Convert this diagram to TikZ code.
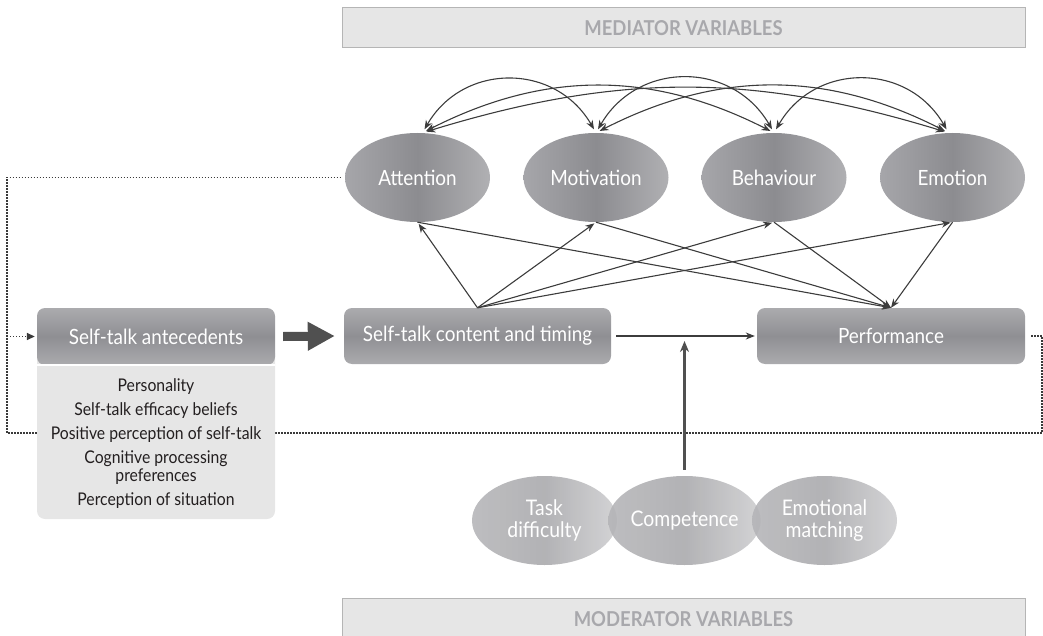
\documentclass[tikz,border=0pt]{standalone}
\usepackage{fontspec}
\setmainfont{Lato}
\newfontfamily\narrowfont[FakeStretch=0.9]{Lato}
\usetikzlibrary{arrows.meta,shapes.geometric}
\definecolor{bargray}{HTML}{B5B5B5}
\definecolor{barfill}{HTML}{E6E6E6}
\definecolor{bartext}{HTML}{A8A8AC}
\definecolor{ellA}{HTML}{A6A6AA}
\definecolor{ellB}{HTML}{8C8C90}
\definecolor{ellC}{HTML}{B0B0B3}
\definecolor{modA}{HTML}{B4B4B7}
\definecolor{modB}{HTML}{A8A8AB}
\definecolor{modC}{HTML}{CDCDCF}
\definecolor{hdrA}{HTML}{ABABAE}
\definecolor{hdrB}{HTML}{8F8F93}
\definecolor{arrgray}{HTML}{3C3C3C}
\definecolor{dotgray}{HTML}{3A3A3A}
\definecolor{bigarr}{HTML}{505050}
\definecolor{bodytext}{HTML}{231F20}
\begin{document}
\begin{tikzpicture}[x=1pt, y=1pt,
    varbar/.style={rectangle, draw=bargray, fill=barfill, line width=1pt, minimum width=683pt, minimum height=40pt, inner sep=0pt, text=bartext, font=\narrowfont\bfseries\fontsize{20.5}{22}\selectfont},
    medell/.style={ellipse, minimum width=145pt, minimum height=89pt, inner sep=0pt, left color=ellA, right color=ellC, middle color=ellB, text=white, font=\narrowfont\fontsize{21}{23}\selectfont},
    modell/.style={medell, left color=modA, right color=modC, middle color=modB, fill opacity=0.88, text opacity=1, align=center, font=\narrowfont\fontsize{21.5}{22}\selectfont},
    stbox/.style={rectangle, rounded corners=8pt, minimum height=56pt, inner sep=0pt, top color=hdrA, bottom color=hdrA, middle color=hdrB, text=white, font=\narrowfont\fontsize{21}{23}\selectfont},
    arr/.style={-{Stealth[length=9pt,width=7pt]}, line width=1.1pt, draw=arrgray},
    dualarr/.style={{Stealth[length=9pt,width=7pt]}-{Stealth[length=9pt,width=7pt]}, line width=1.1pt, draw=arrgray, shorten <=4pt, shorten >=4pt},
    fback/.style={line width=1.6pt, draw=dotgray, dash pattern=on 1.4pt off 1.6pt},
  ]
  \useasboundingbox (0,0) rectangle (1043,-636);

  % mediator row
  \node[varbar] (medbar) at (683.5,-28) {MEDIATOR VARIABLES};
  \foreach \n/\t/\x in {att/Attention/417.5, mot/Motivation/596, beh/Behaviour/774, emo/Emotion/952.5}
    \node[medell] (\n) at (\x,-177.5) {\t};

  % feedback loop (dotted)
  \coordinate (fbR) at (1042,-433);
  \coordinate (fbL) at (7,-433);
  \node[stbox, minimum width=268pt] (perf) at (891,-336) {Performance};
  \draw[fback] ([xshift=6pt]perf.east) -| (fbR) -- (fbL) |- ([xshift=-3pt]att.west);

  % antecedents
  \fill[barfill, rounded corners=8pt] (37,-345) rectangle (275,-519);
  \node[text=bodytext, align=center, font=\narrowfont\fontsize{17.5}{24}\selectfont] (antbody) at (156,-444)
    {Personality\\ Self-talk efficacy beliefs\\ Positive perception of self-talk\\ Cognitive processing\\[-6pt] preferences\\ Perception of situation};
  \node[stbox, minimum width=238pt, minimum height=57pt] (anthdr) at (156,-336.5) {Self-talk antecedents};
  \draw[white, line width=2pt] (anthdr.south west) -- (anthdr.south east);
  \draw[fback, -{Triangle[length=8pt,width=7pt]}] (fbL |- anthdr.west) -- ([xshift=-2pt]anthdr.west);

  % content and timing
  \node[stbox, minimum width=267pt] (cont) at (477.5,-336) {Self-talk content and timing};
  \draw[-{Triangle[length=27pt,width=27pt]}, line width=9pt, draw=bigarr] ([xshift=8pt]anthdr.east) -- ([xshift=-9pt]cont.west);
  \draw[arr, line width=1.4pt] ([xshift=5pt]cont.east) -- ([xshift=-2pt]perf.west);

  % paths through the mediators
  \foreach \m in {att,mot,beh,emo} {
    \draw[arr, shorten >=2pt] (cont.north) -- (\m.south);
    \draw[arr] (\m.south) -- (perf.north);
  }
  \draw[dualarr] ([xshift=5pt]att.north) to[bend left=60, looseness=1.2] (mot.north);
  \draw[dualarr] (mot.north) to[bend left=60, looseness=1.2] (beh.north);
  \draw[dualarr] (beh.north) to[bend left=60, looseness=1.2] ([xshift=-4pt]emo.north);
  \draw[dualarr] ([xshift=5pt]att.north) to[bend left=27] (beh.north);
  \draw[dualarr] (mot.north) to[bend left=27] ([xshift=-4pt]emo.north);
  \draw[dualarr] ([xshift=5pt]att.north) to[bend left=17] ([xshift=-4pt]emo.north);

  % moderator row
  \node[modell] (task) at (544.5,-520.5) {Task\\difficulty};
  \node[modell] (comp) at (684.5,-520.5) {Competence};
  \node[modell] (emom) at (824.5,-520.5) {Emotional\\matching};
  \coordinate (modtip) at (684.5,-341);
  \draw[-{Stealth[length=11pt,width=9pt]}, line width=2.2pt, draw=bigarr] ([yshift=6pt]comp.north) -- (modtip);
  \node[varbar, minimum height=42pt] (modbar) at (683.5,-619) {MODERATOR VARIABLES};
\end{tikzpicture}
\end{document}
